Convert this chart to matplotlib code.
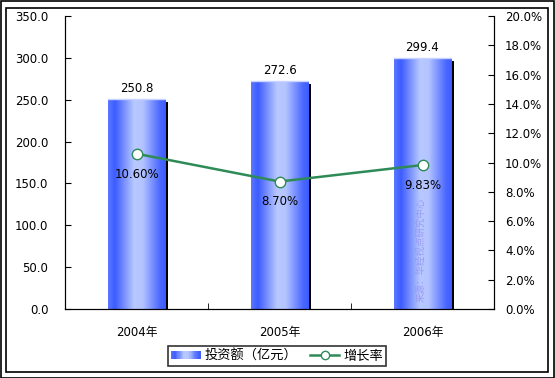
import numpy as np
import matplotlib
matplotlib.use("Agg")
import matplotlib.pyplot as plt
from matplotlib.patches import Rectangle
from matplotlib.lines import Line2D
from matplotlib.legend_handler import HandlerBase
from matplotlib.colors import LinearSegmentedColormap

plt.rcParams['font.family'] = ['DejaVu Sans', 'Noto Sans CJK SC']

# data
years = ['2004年', '2005年', '2006年']
invest = [250.8, 272.6, 299.4]
growth = [10.60, 8.70, 9.83]
growth_labels = ['10.60%', '8.70%', '9.83%']
bar_name = '投资额（亿元）'
line_name = '增长率'
source = '来源：华经视点研究中心'

blue_grad = LinearSegmentedColormap.from_list(
    'bg', [(0.0, '#5a78ff'), (0.12, '#3d5cff'), (0.45, '#b8c8ff'),
           (0.6, '#b4c4ff'), (0.9, '#4a68ff'), (1.0, '#3d5cff')])
green = '#2e8b57'

fig = plt.figure(figsize=(5.55, 3.78), dpi=100)
# double frame
fig.patches.append(Rectangle((0.5 / 555, 0.5 / 378), 553.5 / 555, 376.5 / 378,
                             transform=fig.transFigure, fill=False, lw=1.2, ec='black'))
fig.patches.append(Rectangle((6 / 555, 6 / 378), 542 / 555, 364 / 378,
                             transform=fig.transFigure, fill=False, lw=1.2, ec='black'))

ax = fig.add_axes([65 / 555, 69 / 378, 429 / 555, 293 / 378])
ax.set_xlim(-0.5, 2.5)
ax.set_ylim(0, 350)

x = np.arange(len(years))
w = 0.4
grad = np.linspace(0, 1, 256).reshape(1, -1)
for xi, v in zip(x, invest):
    # shadow
    ax.add_patch(Rectangle((xi - w / 2 + 0.022, 0), w, v - 3.6,
                           fc='black', ec='none', zorder=1))
    bar = ax.bar(xi, v, width=w, color='none', zorder=2)[0]
    im = ax.imshow(grad, cmap=blue_grad, aspect='auto',
                   extent=(xi - w / 2, xi + w / 2, 0, v), zorder=2)
    im.set_clip_path(bar)
    ax.plot([xi - w / 2, xi + w / 2], [v, v], color='#c8d4ff', lw=1, zorder=3)
    ax.text(xi, v + 5, f'{v:.1f}', ha='center', va='bottom', fontsize=8.5, zorder=5)

ax.set_xlim(-0.5, 2.5)
ax.set_ylim(0, 350)
ax.set_yticks(np.arange(0, 351, 50))
ax.set_yticklabels([f'{t:.1f}' for t in np.arange(0, 351, 50)], fontsize=8.5)
ax.set_xticks(x)
ax.set_xticklabels(years, fontsize=8.5)
ax.tick_params(axis='x', length=0, pad=12)
ax.tick_params(axis='y', direction='in', length=4, pad=12)
ax.set_xticks([0.5, 1.5], minor=True)
ax.tick_params(axis='x', which='minor', direction='in', length=4)
ax.spines['top'].set_visible(False)

ax2 = ax.twinx()
ax2.set_ylim(0, 20)
ax2.set_yticks(np.arange(0, 21, 2))
ax2.set_yticklabels([f'{t:.1f}%' for t in np.arange(0, 21, 2)], fontsize=8.5)
ax2.tick_params(axis='y', direction='in', length=4, pad=8)
ax2.spines['top'].set_visible(False)
ax2.plot(x, growth, color=green, lw=1.8, marker='o', ms=7.5,
         mfc='white', mec=green, mew=1, zorder=4)
for xi, g, lab in zip(x, growth, growth_labels):
    ax2.text(xi, g - 0.95, lab, ha='center', va='top', fontsize=8.5, zorder=5)

# source watermark inside the last bar
ax2.text(x[2] - 0.01, 0.5, source, rotation=90, ha='center', va='bottom',
         fontsize=6.8, color='#9a9af0', zorder=6)


class GradHandler(HandlerBase):
    def create_artists(self, legend, orig_handle, xdescent, ydescent,
                       width, height, fontsize, trans):
        arts = []
        n = 24
        for i in range(n):
            arts.append(Rectangle((-xdescent + width * i / n, -ydescent + height * 0.1),
                                  width / n + 0.3, height * 0.8,
                                  fc=blue_grad((i + 0.5) / n), ec='none',
                                  transform=trans))
        return arts


bar_handle = Rectangle((0, 0), 1, 1)
line_handle = Line2D([], [], color=green, lw=1.8, marker='o', ms=6,
                     mfc='white', mec=green, mew=1)
leg = fig.legend([bar_handle, line_handle], [bar_name, line_name],
                 handler_map={Rectangle: GradHandler()},
                 loc='center', bbox_to_anchor=(277 / 555, 1 - 356 / 378),
                 ncol=2, fontsize=9.5, frameon=True, fancybox=False,
                 edgecolor='black', handlelength=2.2, handletextpad=0.3,
                 columnspacing=1.0, borderpad=0.25, borderaxespad=0)
leg.get_frame().set_linewidth(1.2)

fig.savefig('out.png', dpi=100)
